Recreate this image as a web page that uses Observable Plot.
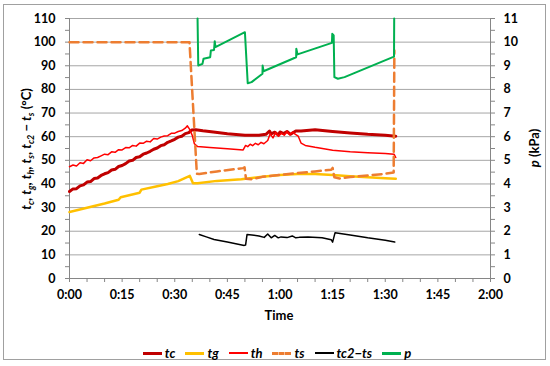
<!DOCTYPE html>
<html><head><meta charset="utf-8">
<script src="https://cdn.jsdelivr.net/npm/d3@7"></script>
<script src="https://cdn.jsdelivr.net/npm/@observablehq/plot@0.6"></script>
<style>
body{margin:0;background:#fff;font-family:Lato,"Open Sans",sans-serif;}
#wrap{position:relative;width:550px;height:366px;overflow:hidden;}
#frame{position:absolute;left:3px;top:4px;width:541px;height:354px;border:1px solid #a0a0a0;}
#chart{position:absolute;left:0;top:0;}
#legend{position:absolute;left:0;top:345px;width:550px;display:flex;justify-content:center;align-items:center;font:italic bold 13px Lato,sans-serif;padding-left:4px;box-sizing:border-box;}
.it{display:flex;align-items:center;margin:0 5px;}
.sw{width:19px;height:0;margin-right:3px;}
</style></head><body>
<div id="wrap"><div id="frame"></div><div id="chart"></div><div id="legend"></div></div>
<script>
// time in minutes, temperatures in °C, p in kPa
const tcT = [0,1,2,3,4,5,6,7,8,9,10,11,12,13,14,15,16,17,18,19,20,21,22,23,24,25,26,27,28,29,30,31,32,33,34,34.8,36,38,41,45,50,54,56,57,57.5,58.5,59.5,60,61,62,63,64.5,66,70,75,80,85,90,93];
const tcV = [36.8,37.9,38.0,39.2,39.6,40.8,41.0,42.3,42.5,43.6,44.3,44.8,45.9,46.2,47.4,47.8,48.6,49.7,50.0,51.2,51.5,52.6,53.1,53.8,54.7,55.2,56.2,56.6,57.6,58.2,58.9,59.8,60.2,61.3,61.7,62.8,62.9,62.5,62.0,61.2,60.6,60.6,61.0,62.4,61.2,61.9,60.7,62.0,61.3,62.2,61.0,62.4,62.4,62.9,62.2,61.6,61.0,60.6,60.2];
const thT = [0,1,2,3,4,5,6,7,8,9,10,11,12,13,14,15,16,17,18,19,20,21,22,23,24,25,26,27,28,29,30,31,32,33,33.6,34.3,35,35.6,36.5,40,45,49.5,50.2,50.8,51.5,52.2,53,53.8,54.6,55.4,56.5,57.2,58,58.8,59.6,60.4,61.2,62,62.8,63.6,64.4,65.2,66,67.2,70,75,80,85,90,92.5,93];
const thV = [47.3,48.0,47.6,49.0,48.7,50.2,49.8,51.0,51.2,51.9,52.6,52.4,53.6,53.4,54.5,54.4,55.4,55.3,56.3,56.0,57.3,57.2,58.1,57.8,59.2,59.0,59.8,60.3,60.4,61.4,61.5,62.2,62.6,63.6,64.6,63.0,60.5,57.0,55.8,55.4,54.9,54.4,56.3,55.8,56.8,56.2,57.2,56.6,57.6,57.0,58.4,61.2,59.5,61.8,60.2,61.5,60.6,62.2,60.8,62.0,61.0,60.2,57.3,56.3,55.5,54.3,53.6,53.2,52.9,52.6,51.2];
const tgT = [0,5,10,14,14.6,17,20,20.5,25,28,31,33.5,34.3,35.2,36.5,42,49,55,60,65,70,75,80,85,90,93];
const tgV = [28.1,29.9,31.7,33.3,34.4,35.2,36.3,37.6,39.0,40.0,41.2,42.9,43.4,40.3,40.3,41.3,42.0,43.0,43.8,44.2,44.2,43.8,43.3,42.8,42.4,42.2];
const tsT = [0,34.2,36.3,37,42,49.5,49.9,50.3,52,55,60,65,70,74.6,75,75.5,77,80,85,90,92.4,92.6];
const tsV = [100,100,44.3,44.2,45.3,46.7,47.0,42.2,42.0,43.0,43.8,44.6,45.3,46.0,46.8,42.8,42.3,42.9,43.6,44.3,44.8,96.5];
const dT = [37,39,41.2,45,49.8,50.2,50.6,52,54,55.5,56.5,57.5,58.5,59.5,60.3,62,63.5,64.5,65.5,68,72,74.6,75,75.7,80,85,90,92.7];
const dV = [18.6,17.6,16.5,15.4,14.0,14.2,18.6,18.4,18.0,17.4,18.8,17.2,18.2,17.2,17.6,17.3,18.0,17.2,17.4,17.6,17.2,16.4,15.4,19.4,18.4,17.2,16.2,15.4];
const pT = [36.5,36.7,37.9,38.2,40.1,40.3,41.2,41.4,41.6,50.0,50.8,51.9,55.0,55.05,55.3,64.6,64.65,65.0,74.8,74.9,75.3,75.5,76.5,78.4,92.5,92.55];
const pV = [11,9.01,9.08,9.3,9.36,9.65,9.67,10.04,9.79,10.42,8.26,8.31,8.66,9.01,8.77,9.36,9.72,9.48,9.97,10.35,10.28,8.52,8.45,8.52,9.39,11];

const seriesNames = ["tc","tg","th","ts","tc2−ts","p"];
const seriesColors = ["#C00000","#FFC000","#FF0000","#ED7D31","#000000","#00B050"];

const rows = (T, V, k = 1) => T.map((t, i) => ({t, v: V[i] * k}));
const fmt = d => `${Math.floor(d / 60)}:${String(d % 60).padStart(2, "0")}`;

const plot = Plot.plot({
  width: 550, height: 330,
  marginLeft: 69, marginRight: 60, marginTop: 18, marginBottom: 52,
  style: {fontFamily: "Lato, sans-serif", fontSize: "12.5px", fontWeight: "bold", color: "#000", background: "transparent", overflow: "visible"},
  x: {domain: [0, 120], axis: null},
  y: {domain: [0, 110], axis: null},
  marks: [
    Plot.gridY(d3.range(10, 111, 10), {stroke: "#a6a6a6", strokeOpacity: 1}),
    Plot.ruleY([0], {stroke: "#868686"}),
    Plot.ruleX([0], {stroke: "#868686"}),
    Plot.ruleX([120], {stroke: "#868686"}),
    Plot.axisY({anchor: "left", ticks: d3.range(0, 111, 5), tickFormat: d => d % 10 === 0 ? d : "", tickSize: 4, tickPadding: 10, stroke: "#868686", fill: "#000", label: null}),
    Plot.axisY({anchor: "right", ticks: d3.range(0, 111, 5), tickFormat: d => d % 10 === 0 ? d / 10 : "", tickSize: 4, tickPadding: 9, stroke: "#868686", fill: "#000", label: null}),
    Plot.axisX({ticks: d3.range(0, 121, 5), tickFormat: d => d % 15 === 0 ? fmt(d) : "", tickSize: 4, tickPadding: 8, stroke: "#868686", fill: "#000", label: null}),
    Plot.line(rows(tcT, tcV), {x: "t", y: "v", stroke: seriesColors[0], strokeWidth: 3}),
    Plot.line(rows(tgT, tgV), {x: "t", y: "v", stroke: seriesColors[1], strokeWidth: 2.5}),
    Plot.line(rows(thT, thV), {x: "t", y: "v", stroke: seriesColors[2], strokeWidth: 1.5}),
    Plot.line(rows(tsT, tsV), {x: "t", y: "v", stroke: seriesColors[3], strokeWidth: 2.5, strokeDasharray: "9,5"}),
    Plot.line(rows(dT, dV), {x: "t", y: "v", stroke: seriesColors[4], strokeWidth: 1.5}),
    Plot.line(rows(pT, pV, 10), {x: "t", y: "v", stroke: seriesColors[5], strokeWidth: 2})
  ]
});
document.getElementById("chart").appendChild(plot);

const svg = d3.select(plot);
// x title
svg.append("text").attr("x", 279).attr("y", 320).attr("text-anchor", "middle")
  .style("font", "bold 13px Lato, sans-serif").text("Time");
// left title with subscripts
const lt = svg.append("text").attr("transform", "translate(31,149) rotate(-90)").attr("text-anchor", "middle")
  .style("font", "bold 13px Lato, sans-serif");
const parts = [["c", ", "], ["g", ", "], ["h", ", "], ["s", ", "], ["c2", " − "], ["s", " (°C)"]];
parts.forEach(([sub, after]) => {
  lt.append("tspan").style("font-style", "italic").text("t");
  lt.append("tspan").attr("dy", 3).style("font-style", "italic").style("font-size", "9px").text(sub);
  lt.append("tspan").attr("dy", -3).text(after);
});
// right title
const rt = svg.append("text").attr("transform", "translate(539,148) rotate(-90)").attr("text-anchor", "middle")
  .style("font", "bold 13px Lato, sans-serif");
rt.append("tspan").style("font-style", "italic").text("p");
rt.append("tspan").text(" (kPa)");

// legend
const lg = document.getElementById("legend");
seriesNames.forEach((n, i) => {
  const it = document.createElement("div"); it.className = "it";
  const sw = document.createElement("div"); sw.className = "sw";
  sw.style.borderTop = (i === 3 ? "3px dashed " : "3px solid ") + seriesColors[i];
  if (i === 4 || i === 2) sw.style.borderTopWidth = "2px";
  const tx = document.createElement("span"); tx.textContent = n;
  it.appendChild(sw); it.appendChild(tx); lg.appendChild(it);
});
</script></body></html>
